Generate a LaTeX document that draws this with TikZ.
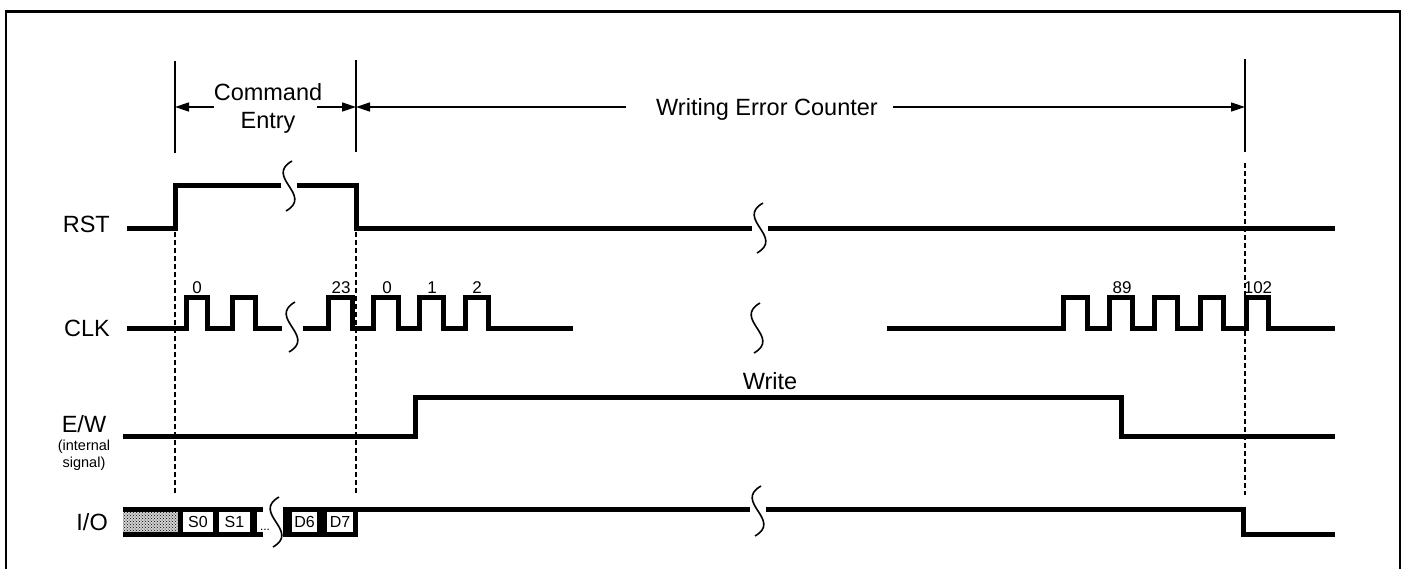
\documentclass[tikz,border=0pt]{standalone}
\usepackage{fontspec}
\setmainfont{Liberation Sans}
\usetikzlibrary{arrows.meta,patterns}
\newcommand{\brkmark}[2]{\draw[brkline] (#1+3,#2-25) .. controls (#1-25,#2-9) and (#1+25,#2+9) .. (#1-3,#2+25);}
\begin{document}
\begin{tikzpicture}[x=1pt,y=-1pt,
  sig/.style={line width=5pt,line join=miter,line cap=butt},
  dim/.style={line width=1.5pt},
  dimarrow/.style={line width=1.5pt,-{Triangle[length=14pt,width=9pt]}},
  vdash/.style={line width=1.6pt,dash pattern=on 5pt off 3pt},
  brkline/.style={line width=1.6pt},
  big/.style={font=\fontsize{23.5}{27}\selectfont,inner sep=0pt},
  small/.style={font=\fontsize{17}{20}\selectfont,inner sep=0pt},
  tiny/.style={font=\fontsize{14.5}{17}\selectfont,inner sep=0pt},
  boxlbl/.style={font=\fontsize{16}{18}\selectfont,inner sep=0pt},
]
\useasboundingbox (0,0) rectangle (1406,568);
% frame
\draw[line width=2.5pt] (6,590) -- (6,11.5) -- (1400,11.5) -- (1400,590);

% dimension lines
\coordinate (dA) at (175,107);
\coordinate (dB) at (356,107);
\coordinate (dC) at (1245,107);
\draw[dim] (175,61) -- (175,153);
\draw[dim] (356,60) -- (356,152);
\draw[dim] (1245,59) -- (1245,152);
\node[big,anchor=base] (cmd) at (268,100) {Command};
\node[big,anchor=base] (entry) at (268,128) {Entry};
\node[big,anchor=base] (wec) at (767,115) {Writing Error Counter};
\draw[dimarrow] (cmd.west |- dA) -- (dA);
\draw[dimarrow] ([xshift=-5pt]cmd.east |- dB) -- (dB);
\draw[dimarrow] ([xshift=-30pt]wec.west |- dB) -- (dB);
\draw[dimarrow] ([xshift=15pt]wec.east |- dC) -- (dC);

% dashed guides
\draw[vdash] (175,232) -- (175,495);
\draw[vdash] (356,232) -- (356,495);
\draw[vdash] (1245,163) -- (1245,495);

% signal labels
\node[big,anchor=base east] (rst) at (110,232) {RST};
\node[big,anchor=base east] (clk) at (110,336) {CLK};
\node[big,anchor=base] (ew) at (84,432) {E/W};
\node[tiny,anchor=base] (ew1) at (84,450) {(internal};
\node[tiny,anchor=base] (ew2) at (84,467) {signal)};
\node[big,anchor=base east] (io) at (108,530) {I/O};

% RST
\draw[sig] (127,228) -- (175,228) -- (175,185.5) -- (281,185.5);
\brkmark{289}{186}
\draw[sig] (297,185.5) -- (356,185.5) -- (356,228) -- (752,228);
\brkmark{760}{228}
\draw[sig] (768,228) -- (1335,228);

% CLK
\draw[sig] (127,328) -| (186,297) -| (207,328) -| (232,297) -| (255,328) -- (282,328);
\brkmark{292}{327}
\draw[sig] (303,328) -| (328,297) -| (352,328) -| (373,297) -| (398,328) -| (419,297) -| (443,328) -| (465,297) -| (488,328) -- (573,328);
\brkmark{757}{328}
\draw[sig] (887,328) -| (1063,297) -| (1087,328) -| (1109,297) -| (1132,328) -| (1154,297) -| (1177,328) -| (1200,297) -| (1223,328) -| (1246,297) -| (1268,328) -- (1335,328);
\node[small,anchor=base] (c0) at (197,293) {0};
\node[small,anchor=base] (c23) at (341,293) {23};
\node[small,anchor=base] (c0b) at (387,293) {0};
\node[small,anchor=base] (c1) at (432,293) {1};
\node[small,anchor=base] (c2) at (477,293) {2};
\node[small,anchor=base] (c89) at (1122,293) {89};
\node[small,anchor=base] (c102) at (1258,293) {102};

% E/W
\draw[sig] (123,436) -| (415,397) -| (1121,436) -- (1335,436);
\node[big,anchor=base] (write) at (770,389) {Write};

% I/O
\fill (123,507) rectangle (263,537);
\fill[gray!35] (123,512) rectangle (178,532);
\fill[pattern=crosshatch dots,pattern color=black] (123,512) rectangle (178,532);
\fill[white] (183,512) rectangle (213,532);
\fill[white] (219,512) rectangle (250,532);
\fill[white] (257,512) rectangle (263,532);
\node[boxlbl] (s0) at (198,522) {S0};
\node[boxlbl] (s1) at (234.5,522) {S1};
\node[font=\fontsize{12}{14}\selectfont,inner sep=0pt,anchor=base] (dots) at (265,530) {...};
\brkmark{276}{522}
\fill (283,507) rectangle (358,537);
\fill[white] (292,512) rectangle (317,532);
\fill[white] (327,512) rectangle (353,532);
\node[boxlbl] (d6) at (304.5,522) {D6};
\node[boxlbl] (d7) at (340,522) {D7};
\draw[sig] (356,509.5) -- (750,509.5);
\brkmark{758}{511}
\draw[sig] (766,509.5) -| (1243,534.5) -- (1335,534.5);
\end{tikzpicture}
\end{document}
